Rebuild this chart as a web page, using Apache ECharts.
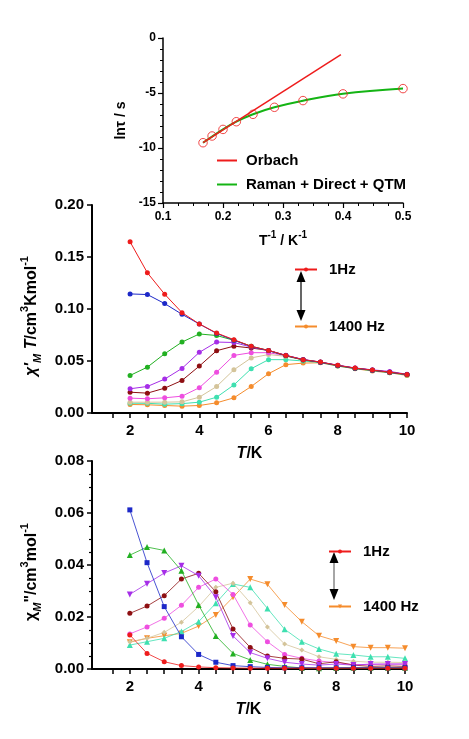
<!DOCTYPE html>
<html><head><meta charset="utf-8">
<script src="https://cdn.jsdelivr.net/npm/echarts@6/dist/echarts.min.js"></script>
<style>html,body{margin:0;padding:0;background:#fff}#c{width:469px;height:739px}</style>
</head><body><div id="c"></div>
<script>
// ---------- DATA ----------
// Inset: ln(tau) vs 1/T
const invT = [0.1667, 0.1818, 0.2, 0.2222, 0.25, 0.2857, 0.3333, 0.4, 0.5];
const lnTau = [-9.52, -8.91, -8.31, -7.61, -6.94, -6.30, -5.69, -5.08, -4.60];
const orbachX = [0.1667, 0.3965];
const orbachY = [-9.52, -1.52];
const fitX = [0.1667, 0.2, 0.2222, 0.25, 0.2857, 0.3333, 0.4, 0.5];
const fitY = [-9.52, -8.30, -7.60, -6.93, -6.30, -5.70, -5.07, -4.60];

// Temperatures (K)
const temps = [2, 2.5, 3, 3.5, 4, 4.5, 5, 5.5, 6, 6.5, 7, 7.5, 8, 8.5, 9, 9.5, 10];
const freqs = ['1Hz', '10 Hz', '100 Hz', '200 Hz', '400 Hz', '600 Hz', '800 Hz', '1000 Hz', '1400 Hz'];

// chi'M T (cm3 K mol-1)
const chiT_1 = [0.1646,0.1348,0.1142,0.0965,0.0856,0.0769,0.0705,0.0641,0.0602,0.0554,0.0513,0.0490,0.0458,0.0432,0.0413,0.0393,0.0371];
const chiT_2 = [0.1145,0.1139,0.1052,0.0949,0.0856,0.0765,0.0700,0.0640,0.0600,0.0552,0.0512,0.0488,0.0457,0.0431,0.0412,0.0392,0.0370];
const chiT_3 = [0.0361,0.0441,0.0570,0.0682,0.0760,0.0745,0.0699,0.0642,0.0600,0.0550,0.0510,0.0487,0.0455,0.0428,0.0410,0.0390,0.0368];
const chiT_4 = [0.0233,0.0255,0.0326,0.0429,0.0583,0.0682,0.0678,0.0634,0.0600,0.0555,0.0515,0.0490,0.0460,0.0433,0.0415,0.0400,0.0372];
const chiT_5 = [0.0200,0.0191,0.0239,0.0313,0.0451,0.0599,0.0643,0.0625,0.0602,0.0553,0.0512,0.0489,0.0457,0.0431,0.0412,0.0392,0.0370];
const chiT_6 = [0.0143,0.0137,0.0146,0.0162,0.0243,0.0393,0.0554,0.0580,0.0580,0.0552,0.0512,0.0488,0.0456,0.0430,0.0411,0.0391,0.0369];
const chiT_7 = [0.0104,0.0104,0.0104,0.0107,0.0152,0.0255,0.0416,0.0530,0.0562,0.0545,0.0510,0.0487,0.0455,0.0429,0.0410,0.0390,0.0368];
const chiT_8 = [0.0094,0.0093,0.0085,0.0090,0.0104,0.0152,0.0270,0.0426,0.0513,0.0513,0.0500,0.0485,0.0452,0.0427,0.0408,0.0388,0.0366];
const chiT_9 = [0.0082,0.0079,0.0072,0.0066,0.0072,0.0098,0.0146,0.0255,0.0378,0.0465,0.0480,0.0483,0.0451,0.0426,0.0403,0.0387,0.0361];

// chi''M (cm3 mol-1)
const chi2_1 = [0.0131,0.0060,0.0028,0.0013,0.0008,0.0005,0.0004,0.0003,0.0003,0.0003,0.0003,0.0003,0.0003,0.0003,0.0003,0.0003,0.0003];
const chi2_2 = [0.0612,0.0409,0.0240,0.0124,0.0056,0.0026,0.0013,0.0009,0.0006,0.0005,0.0005,0.0005,0.0005,0.0005,0.0005,0.0005,0.0005];
const chi2_3 = [0.0438,0.0469,0.0456,0.0378,0.0246,0.0127,0.0060,0.0035,0.0018,0.0010,0.0004,0.0003,0.0004,0.0005,0.0005,0.0005,0.0005];
const chi2_4 = [0.0287,0.0328,0.0369,0.0397,0.0359,0.0276,0.0127,0.0063,0.0041,0.0026,0.0019,0.0015,0.0019,0.0015,0.0019,0.0019,0.0019];
const chi2_5 = [0.0214,0.0242,0.0282,0.0346,0.0368,0.0297,0.0154,0.0083,0.0050,0.0041,0.0038,0.0020,0.0028,0.0015,0.0010,0.0012,0.0010];
const chi2_6 = [0.0135,0.0162,0.0195,0.0245,0.0314,0.0346,0.0287,0.0169,0.0105,0.0056,0.0041,0.0031,0.0024,0.0017,0.0017,0.0019,0.0019];
const chi2_7 = [0.0105,0.0118,0.0141,0.0180,0.0240,0.0314,0.0330,0.0255,0.0162,0.0096,0.0073,0.0047,0.0037,0.0030,0.0026,0.0026,0.0025];
const chi2_8 = [0.0092,0.0105,0.0118,0.0144,0.0182,0.0253,0.0327,0.0314,0.0233,0.0153,0.0105,0.0077,0.0059,0.0054,0.0047,0.0047,0.0041];
const chi2_9 = [0.0103,0.0118,0.0128,0.0137,0.0165,0.0208,0.0276,0.0346,0.0326,0.0246,0.0182,0.0128,0.0108,0.0086,0.0082,0.0082,0.0080];

// axis ticks / labels
const tempTicks = [1.5,2,2.5,3,3.5,4,4.5,5,5.5,6,6.5,7,7.5,8,8.5,9,9.5,10];
const tempLabels = [2, 4, 6, 8, 10];

// ---------- STYLE ----------
const colors = ['#ee1c1c', '#1c28c8', '#22b022', '#a62ee8', '#8e0f12', '#ee4ee0', '#d4c49a', '#3ee0b0', '#f58c2c'];
const chi2Symbols = ['circle', 'rect', 'triangle', 'triangle', 'circle', 'circle', 'diamond', 'triangle', 'triangle'];
const chi2Rotate = [0, 0, 0, 180, 0, 0, 0, 0, 180];
const FONT = 'Arial, "Liberation Sans", sans-serif';
const chiT = [chiT_1, chiT_2, chiT_3, chiT_4, chiT_5, chiT_6, chiT_7, chiT_8, chiT_9];
const chi2 = [chi2_1, chi2_2, chi2_3, chi2_4, chi2_5, chi2_6, chi2_7, chi2_8, chi2_9];

const pair = (xs, ys) => xs.map((x, i) => [x, ys[i]]);
const axisLineStyle = w => ({ show: true, onZero: false, lineStyle: { color: '#000', width: w } });
const rich = (fs) => ({
  i: { fontStyle: 'italic', fontWeight: 'bold', fontSize: fs, fontFamily: FONT, lineHeight: fs + 8 },
  n: { fontWeight: 'bold', fontSize: fs, fontFamily: FONT, lineHeight: fs + 8 },
  sup: { fontWeight: 'bold', fontSize: Math.round(fs * 0.68), fontFamily: FONT, verticalAlign: 'top', lineHeight: fs + 8, padding: [0, 0, 10, 0] },
  sub: { fontWeight: 'bold', fontStyle: 'italic', fontSize: Math.round(fs * 0.68), fontFamily: FONT, verticalAlign: 'bottom', lineHeight: fs + 8, padding: [8, 0, 0, 0] }
});

const series = [];
// inset
series.push({ name: 'Raman + Direct + QTM', type: 'line', xAxisIndex: 0, yAxisIndex: 0, data: pair(fitX, fitY), smooth: 0.4, showSymbol: false, symbol: 'none', lineStyle: { color: '#14b414', width: 2 }, itemStyle: { color: '#14b414' }, z: 3 });
series.push({ name: 'Orbach', type: 'line', xAxisIndex: 0, yAxisIndex: 0, data: pair(orbachX, orbachY), showSymbol: false, symbol: 'none', lineStyle: { color: '#ee1c1c', width: 1.5 }, itemStyle: { color: '#ee1c1c' }, z: 4 });
series.push({ name: 'data', type: 'scatter', xAxisIndex: 0, yAxisIndex: 0, data: pair(invT, lnTau), symbol: 'circle', symbolSize: 8.5, itemStyle: { color: 'rgba(255,255,255,0)', borderColor: '#ee1c1c', borderWidth: 1 }, z: 5 });
// middle
for (let k = 8; k >= 0; k--) {
  series.push({ name: 'M' + freqs[k], type: 'line', xAxisIndex: 1, yAxisIndex: 1, data: pair(temps, chiT[k]), symbol: 'circle', symbolSize: 5, lineStyle: { color: colors[k], width: 1 }, itemStyle: { color: colors[k] }, z: 10 + (8 - k) });
}
// bottom
for (let k = 8; k >= 0; k--) {
  series.push({ name: 'B' + freqs[k], type: 'line', xAxisIndex: 2, yAxisIndex: 2, data: pair(temps, chi2[k]), symbol: chi2Symbols[k], symbolRotate: chi2Rotate[k], symbolSize: chi2Symbols[k] === 'triangle' ? 6 : 5, lineStyle: { color: colors[k], width: 0.8 }, itemStyle: { color: colors[k] }, z: 10 + (8 - k) });
}

const legendText = { color: '#000', fontWeight: 'bold', fontFamily: FONT, fontSize: 15, padding: [0, 0, 0, 7] };
const mkLegend = (name, left, top) => ({ data: [name], left, top, itemWidth: 22, itemHeight: 5, formatter: n => n.slice(1), textStyle: legendText, selectedMode: false });

const option = {
  animation: false,
  backgroundColor: '#fff',
  grid: [
    { left: 163, top: 38, width: 240, height: 165, outerBoundsMode: 'none' },
    { left: 92, top: 205, width: 315, height: 208, outerBoundsMode: 'none' },
    { left: 92, top: 461, width: 313, height: 208, outerBoundsMode: 'none' }
  ],
  legend: [
    { data: [{ name: 'Orbach', icon: 'rect' }, { name: 'Raman + Direct + QTM', icon: 'rect' }], orient: 'vertical', left: 212, top: 148, itemWidth: 20, itemHeight: 2, itemGap: 9, textStyle: { color: '#000', fontWeight: 'bold', fontFamily: FONT, fontSize: 15, padding: [0, 0, 0, 4] }, selectedMode: false },
    mkLegend('M1Hz', 289, 257),
    mkLegend('M1400 Hz', 289, 314),
    mkLegend('B1Hz', 323, 539),
    mkLegend('B1400 Hz', 323, 594)
  ],
  xAxis: [
    { gridIndex: 0, type: 'value', min: 0.1, max: 0.5, interval: 0.1,
      name: '{n|T}{sup|-1}{n| / K}{sup|-1}', nameLocation: 'middle', nameGap: 27,
      nameTextStyle: { color: '#000', rich: rich(14) },
      axisLine: axisLineStyle(1.5), axisTick: { length: 5, lineStyle: { color: '#000', width: 1.2 } },
      minorTick: { show: true, splitNumber: 4, length: 3, lineStyle: { color: '#000', width: 1 } },
      axisLabel: { color: '#000', fontWeight: 'bold', fontSize: 12, fontFamily: FONT, margin: 8, formatter: v => v.toFixed(1) },
      splitLine: { show: false } },
    { gridIndex: 1, type: 'value', min: 0.9, max: 10,
      name: '{i|T}{n|/K}', nameLocation: 'middle', nameGap: 29,
      nameTextStyle: { color: '#000', rich: rich(16) },
      axisLine: axisLineStyle(2), axisTick: { length: 5, customValues: tempTicks, lineStyle: { color: '#000', width: 1.5 } },
      axisLabel: { color: '#000', fontWeight: 'bold', fontSize: 15, fontFamily: FONT, margin: 10, customValues: tempLabels },
      splitLine: { show: false } },
    { gridIndex: 2, type: 'value', min: 0.9, max: 10,
      name: '{i|T}{n|/K}', nameLocation: 'middle', nameGap: 29,
      nameTextStyle: { color: '#000', rich: rich(16) },
      axisLine: axisLineStyle(2), axisTick: { length: 5, customValues: tempTicks, lineStyle: { color: '#000', width: 1.5 } },
      axisLabel: { color: '#000', fontWeight: 'bold', fontSize: 15, fontFamily: FONT, margin: 10, customValues: tempLabels },
      splitLine: { show: false } }
  ],
  yAxis: [
    { gridIndex: 0, type: 'value', min: -15, max: 0, interval: 5,
      name: 'lnτ / s', nameLocation: 'middle', nameGap: 27,
      nameTextStyle: { color: '#000', fontWeight: 'bold', fontSize: 14, fontFamily: FONT },
      axisLine: axisLineStyle(1.5), axisTick: { length: 5, lineStyle: { color: '#000', width: 1.2 } },
      minorTick: { show: true, splitNumber: 5, length: 3, lineStyle: { color: '#000', width: 1 } },
      axisLabel: { color: '#000', fontWeight: 'bold', fontSize: 12, fontFamily: FONT, margin: 7 },
      splitLine: { show: false } },
    { gridIndex: 1, type: 'value', min: 0, max: 0.2, interval: 0.05,
      name: "{i|χ'}{sub|M}{n| }{i|T}{n|/cm}{sup|3}{n|Kmol}{sup|-1}", nameLocation: 'middle', nameGap: 36,
      nameTextStyle: { color: '#000', rich: rich(16), padding: [0, 0, 0, -14] },
      axisLine: axisLineStyle(2), axisTick: { length: 5, lineStyle: { color: '#000', width: 1.5 } },
      axisLabel: { color: '#000', fontWeight: 'bold', fontSize: 15, fontFamily: FONT, margin: 8, formatter: v => v.toFixed(2) },
      splitLine: { show: false } },
    { gridIndex: 2, type: 'value', min: 0, max: 0.08, interval: 0.02,
      name: '{n|χ}{sub|M}{n|"/cm}{sup|3}{n|mol}{sup|-1}', nameLocation: 'middle', nameGap: 36,
      nameTextStyle: { color: '#000', rich: rich(16), padding: [0, 0, 0, -14] },
      axisLine: axisLineStyle(2), axisTick: { length: 5, lineStyle: { color: '#000', width: 1.5 } },
      minorTick: { show: true, splitNumber: 4, length: 3, lineStyle: { color: '#000', width: 1.2 } },
      axisLabel: { color: '#000', fontWeight: 'bold', fontSize: 15, fontFamily: FONT, margin: 8, formatter: v => v.toFixed(2) },
      splitLine: { show: false } }
  ],
  graphic: [
    // double-headed arrow (middle panel)
    { type: 'line', shape: { x1: 301, y1: 280, x2: 301, y2: 312 }, style: { stroke: '#000', lineWidth: 1.2 } },
    { type: 'polygon', shape: { points: [[301, 271], [296.5, 282], [305.5, 282]] }, style: { fill: '#000' } },
    { type: 'polygon', shape: { points: [[301, 321], [296.5, 310], [305.5, 310]] }, style: { fill: '#000' } },
    // double-headed arrow (bottom panel)
    { type: 'line', shape: { x1: 334, y1: 561, x2: 334, y2: 591 }, style: { stroke: '#888', lineWidth: 1.5 } },
    { type: 'polygon', shape: { points: [[334, 552], [329.5, 563], [338.5, 563]] }, style: { fill: '#000' } },
    { type: 'polygon', shape: { points: [[334, 600], [329.5, 589], [338.5, 589]] }, style: { fill: '#000' } }
  ],
  series
};
const chart = echarts.init(document.getElementById('c'), null, { renderer: 'canvas' });
chart.setOption(option);
</script></body></html>
